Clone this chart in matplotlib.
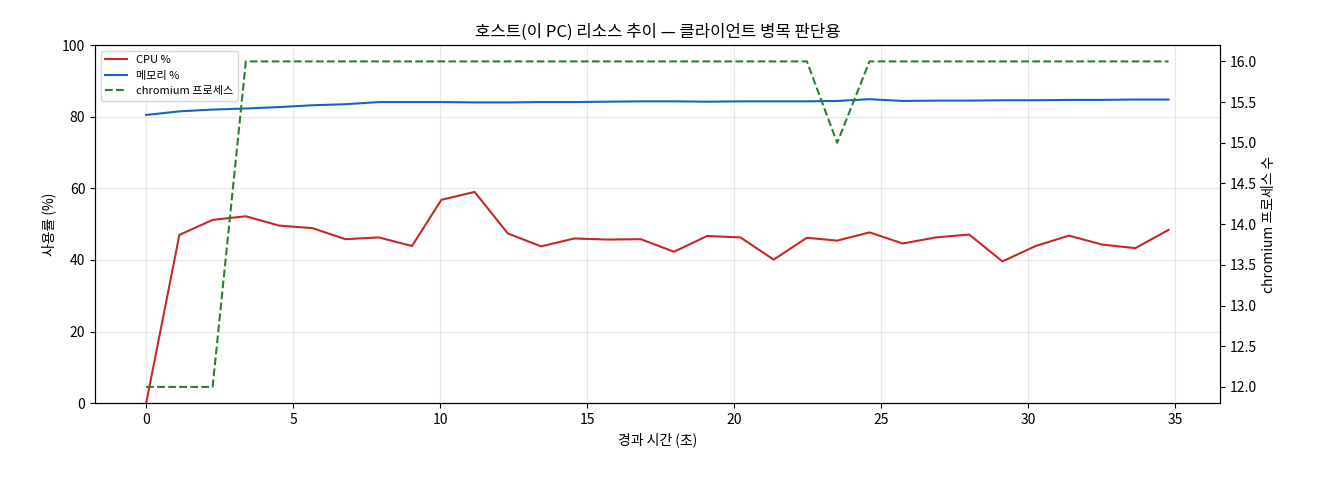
import matplotlib
matplotlib.use("Agg")
import matplotlib.pyplot as plt

plt.rcParams['font.family'] = ['Noto Sans CJK KR', 'DejaVu Sans']

t = [0, 1.13, 2.26, 3.39, 4.52, 5.65, 6.78, 7.91, 9.04, 10.04, 11.17, 12.3, 13.43, 14.56, 15.69, 16.82,
     17.95, 19.08, 20.21, 21.34, 22.47, 23.5, 24.6, 25.73, 26.86, 27.99, 29.12, 30.25, 31.38, 32.51, 33.64, 34.77]
cpu = [0, 47, 51.2, 52.2, 49.6, 48.9, 45.8, 46.3, 43.9, 56.8, 59, 47.4, 43.8, 46, 45.7, 45.8,
       42.3, 46.7, 46.3, 40.1, 46.2, 45.4, 47.7, 44.6, 46.3, 47.1, 39.6, 43.9, 46.8, 44.3, 43.3, 48.4]
mem = [80.5, 81.5, 82.0, 82.3, 82.7, 83.2, 83.5, 84.1, 84.1, 84.1, 84.0, 84.0, 84.1, 84.1, 84.2, 84.3,
       84.3, 84.2, 84.3, 84.3, 84.3, 84.4, 84.9, 84.4, 84.5, 84.5, 84.6, 84.6, 84.7, 84.7, 84.8, 84.8]
chrom = [12, 12, 12, 16, 16, 16, 16, 16, 16, 16, 16, 16, 16, 16, 16, 16,
         16, 16, 16, 16, 16, 15, 16, 16, 16, 16, 16, 16, 16, 16, 16, 16]

fig, ax = plt.subplots(figsize=(13.2, 4.8), dpi=100)
l1, = ax.plot(t, cpu, color='#c62828', lw=1.5, label='CPU %')
l2, = ax.plot(t, mem, color='#1565c0', lw=1.5, label='메모리 %')
ax.set_ylim(0, 100)
ax.set_xlabel('경과 시간 (초)')
ax.set_ylabel('사용률 (%)')
ax.grid(True, alpha=0.3)
ax2 = ax.twinx()
l3, = ax2.plot(t, chrom, color='#2e7d32', lw=1.5, ls='--', label='chromium 프로세스')
ax2.set_ylim(11.8, 16.2)
ax2.set_ylabel('chromium 프로세스 수')
ax.legend(handles=[l1, l2, l3], loc='upper left', fontsize=8)
ax.set_title('호스트(이 PC) 리소스 추이 — 클라이언트 병목 판단용')
fig.subplots_adjust(left=0.072, right=0.924, top=0.906, bottom=0.16)
fig.savefig('out.png')
